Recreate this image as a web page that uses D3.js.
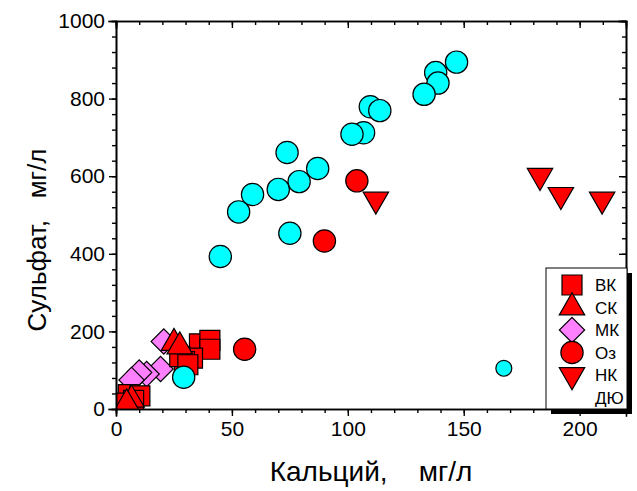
<!DOCTYPE html>
<html>
<head>
<meta charset="utf-8">
<script src="https://cdn.jsdelivr.net/npm/d3@7"></script>
<style>
  body { margin: 0; background: #fff; }
  text { font-family: "Liberation Sans", Arial, sans-serif; }
</style>
</head>
<body>
<svg id="chart" width="637" height="491"></svg>
<script>
// Кальций (x) vs Сульфат (y), мг/л
var vk = [[36,168],[40.5,177],[40.5,154],[33,131],[29.5,122],[27.5,135],[31,114],[5.3,37],[10.3,34],[1.7,15],[7.6,22]];
var sk = [[25,170],[27.5,161],[6.7,24],[4.6,14]];
var mk = [[20.6,174],[19.2,103],[13.2,90],[10,94],[6.7,75]];
var oz = [[103.9,588],[89.9,433],[55.5,154]];
var nk = [[182.9,601],[191.9,552],[209.7,540],[112.1,540]];
var dyu = [[146.9,894],[137.9,867],[138.9,840],[132.9,811],[109.7,779],[113.8,769],[106.8,712],[101.8,708],
           [73.8,661],[87,620],[79,586],[70,566],[58.9,553],[52.9,508],[75,453],[45,393],[29.2,82]];
var dyuSmall = [[167.3,105]];

var xTicks = [0, 50, 100, 150, 200];
var yTicks = [0, 200, 400, 600, 800, 1000];
var legendNames = ["ВК", "СК", "МК", "Оз", "НК", "ДЮ"];

var svg = d3.select("#chart");
var margin = {left: 116, right: 11, top: 21, bottom: 82};
var W = 637 - margin.left - margin.right,
    H = 491 - margin.top - margin.bottom;

var x = d3.scaleLinear().domain([0, 220]).range([0, W]);
var y = d3.scaleLinear().domain([0, 1000]).range([H, 0]);

var g = svg.append("g").attr("transform", "translate(" + margin.left + "," + margin.top + ")");

svg.append("defs").append("clipPath").attr("id", "clip")
    .append("rect").attr("width", W).attr("height", H);

// symbol makers
var sym = {
    square: d3.symbol().type(d3.symbolSquare).size(400),
    triUp: d3.symbol().type(d3.symbolTriangle).size(280),
    diamond: d3.symbol().type(d3.symbolSquare).size(320),
    circle: d3.symbol().type(d3.symbolCircle).size(390),
    small: d3.symbol().type(d3.symbolCircle).size(200)
};

var series = [
    {data: mk, path: sym.diamond, fill: "#ff80ff", rot: 45},
    {data: vk, path: sym.square, fill: "#ff0000", rot: 0},
    {data: sk, path: sym.triUp, fill: "#ff0000", rot: 0},
    {data: oz, path: sym.circle, fill: "#ff0000", rot: 0},
    {data: nk, path: sym.triUp, fill: "#ff0000", rot: 180},
    {data: dyu, path: sym.circle, fill: "#00ffff", rot: 0},
    {data: dyuSmall, path: sym.small, fill: "#00ffff", rot: 0}
];

var pts = g.append("g").attr("clip-path", "url(#clip)");
series.forEach(function(s) {
    pts.append("g").selectAll("path").data(s.data).enter().append("path")
        .attr("d", s.path())
        .attr("transform", function(d) {
            return "translate(" + x(d[0]) + "," + y(d[1]) + ") rotate(" + s.rot + ")";
        })
        .attr("fill", s.fill)
        .attr("stroke", "#000")
        .attr("stroke-width", 1.2);
});

// axes: outward ticks left/bottom, inward on top/right
function styleAxis(sel) {
    sel.select(".domain").attr("stroke-width", 1.6);
    sel.selectAll(".tick line").attr("stroke-width", 1.4);
    sel.selectAll("text").attr("font-size", 21).attr("fill", "#000");
}
var xMinor = d3.range(0, 221, 10), yMinor = d3.range(0, 1001, 40);

g.append("g").attr("transform", "translate(0," + H + ")")
    .call(d3.axisBottom(x).tickValues(xMinor).tickSize(4).tickFormat(""))
    .call(styleAxis);
g.append("g").attr("transform", "translate(0," + H + ")")
    .call(d3.axisBottom(x).tickValues(xTicks).tickSize(7).tickPadding(5).tickFormat(d3.format("d")))
    .call(styleAxis);
g.append("g")
    .call(d3.axisLeft(y).tickValues(yMinor).tickSize(4).tickFormat(""))
    .call(styleAxis);
g.append("g")
    .call(d3.axisLeft(y).tickValues(yTicks).tickSize(7).tickPadding(4).tickFormat(d3.format("d")))
    .call(styleAxis);
g.append("g")
    .call(d3.axisTop(x).tickValues(xMinor).tickSize(-4).tickFormat(""))
    .call(styleAxis);
g.append("g")
    .call(d3.axisTop(x).tickValues(xTicks).tickSize(-7).tickFormat(""))
    .call(styleAxis);
g.append("g").attr("transform", "translate(" + W + ",0)")
    .call(d3.axisRight(y).tickValues(yMinor).tickSize(-4).tickFormat(""))
    .call(styleAxis);
g.append("g").attr("transform", "translate(" + W + ",0)")
    .call(d3.axisRight(y).tickValues(yTicks).tickSize(-7).tickFormat(""))
    .call(styleAxis);
g.selectAll(".domain").attr("stroke-linecap", "square");

// axis titles
svg.append("text")
    .attr("x", margin.left + W / 2).attr("y", 481)
    .attr("text-anchor", "middle").attr("font-size", 28)
    .style("white-space", "pre")
    .text("Кальций,    мг/л");
svg.append("text")
    .attr("transform", "translate(46,240) rotate(-90)")
    .attr("text-anchor", "middle").attr("font-size", 26)
    .style("white-space", "pre")
    .text("Сульфат,   мг/л");

// legend with drop shadow
var lg = svg.append("g").attr("transform", "translate(546,268)");
lg.append("rect").attr("x", 5).attr("y", 5).attr("width", 81).attr("height", 141).attr("fill", "#000");
lg.append("rect").attr("width", 81).attr("height", 141).attr("fill", "#fff")
    .attr("stroke", "#000").attr("stroke-width", 1);
var legSyms = [series[1], series[2], series[0], series[3], series[4], null];
legendNames.forEach(function(name, i) {
    var cy = 17 + i * 22.5;
    var s = legSyms[i];
    if (s) {
        lg.append("path").attr("d", s.path())
            .attr("transform", "translate(26," + cy + ") rotate(" + s.rot + ")")
            .attr("fill", s.fill).attr("stroke", "#000").attr("stroke-width", 1.2);
    }
    lg.append("text").attr("x", 49).attr("y", cy + 6).attr("font-size", 17).text(name);
});
</script>
</body>
</html>
